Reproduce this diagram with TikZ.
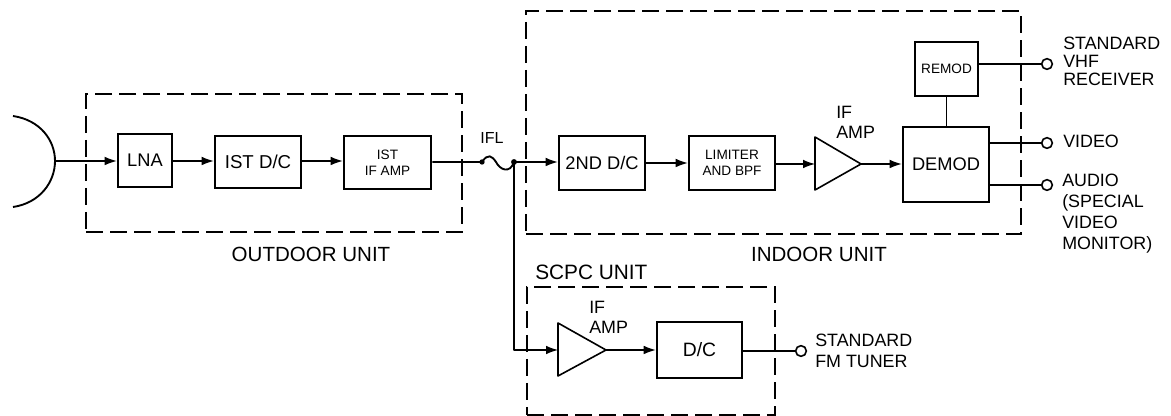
\documentclass[tikz,border=0pt]{standalone}
\usepackage{fontspec}
\setmainfont{Liberation Sans}
\usetikzlibrary{arrows.meta}
\tikzset{
  x=0.75pt,y=-0.75pt,
  blk/.style={draw,line width=2pt,inner sep=0pt,align=center,font=\fontsize{13.7}{16}\selectfont},
  smallblk/.style={blk,font=\fontsize{10.2}{12}\selectfont},
  unitbox/.style={draw,line width=0.85pt,dash pattern=on 12.5pt off 5.5pt},
  conn/.style={line width=0.9pt},
  arr/.style={conn,-{Latex[length=9pt,width=6.5pt]}},
  term/.style={circle,draw,line width=1.2pt,fill=white,minimum size=8pt,inner sep=0pt},
  lab/.style={anchor=west,inner sep=0pt,align=left,font=\fontsize{13.4}{13.6}\selectfont},
  clab/.style={inner sep=0pt,align=center,font=\fontsize{15.4}{18}\selectfont},
  amp/.style={line width=1.2pt,line join=round},
}
\begin{document}
\begin{tikzpicture}
\useasboundingbox (0,0) rectangle (1171,416);
% unit frames
\node[unitbox,minimum width=376*0.75pt,minimum height=138*0.75pt,inner sep=0pt] (outdoor) at (274,163) {};
\node[unitbox,minimum width=495*0.75pt,minimum height=223*0.75pt,inner sep=0pt] (indoor) at (773.5,122.5) {};
\node[unitbox,minimum width=248*0.75pt,minimum height=128*0.75pt,inner sep=0pt] (scpc) at (651,351) {};
% dish
\coordinate (dishtop) at (13,116);
\coordinate (dishbot) at (13,207);
\coordinate (feed) at (55,161);
\draw[line width=1.4pt] (dishtop) .. controls (40,120) and (55,140) .. (feed) .. controls (55,182) and (40,203) .. (dishbot);
% blocks
\node[blk,minimum width=54*0.75pt,minimum height=53*0.75pt] (lna) at (145,160.5) {LNA};
\node[blk,minimum width=86*0.75pt,minimum height=52*0.75pt,font=\fontsize{14}{16}\selectfont] (d1) at (258,162) {IST D/C};
\node[smallblk,minimum width=87*0.75pt,minimum height=53*0.75pt] (if1) at (387.5,162.5) {IST\\IF AMP};
\node[blk,minimum width=86*0.75pt,minimum height=54*0.75pt] (d2) at (602,163) {2ND D/C};
\node[smallblk,minimum width=86*0.75pt,minimum height=54*0.75pt] (lim) at (732,163) {LIMITER\\AND BPF};
\node[blk,minimum width=86*0.75pt,minimum height=75*0.75pt] (demod) at (946,164.5) {DEMOD};
\node[smallblk,minimum width=63*0.75pt,minimum height=54*0.75pt] (remod) at (946.5,69) {REMOD};
\node[blk,minimum width=85*0.75pt,minimum height=56*0.75pt,font=\fontsize{14.5}{16}\selectfont] (dc) at (699.5,350) {D/C};
% amplifiers
\coordinate (a1in) at (815,164); \coordinate (a1out) at (861,164);
\draw[amp] (815,137) -- (a1out) -- (815,190) -- cycle;
\coordinate (a2in) at (558,350); \coordinate (a2out) at (606,350);
\draw[amp] (558,323) -- (a2out) -- (558,376) -- cycle;
% terminals
\node[term] (t1) at (1047,64) {};
\node[term] (t2) at (1047,143) {};
\node[term] (t3) at (1047,185) {};
\node[term] (t4) at (801,351) {};
% connectors
\draw[arr] (feed) -- (lna.west |- feed);
\draw[arr] (lna.east |- feed) -- (d1.west |- feed);
\draw[arr] (d1.east |- feed) -- (if1.west |- feed);
\coordinate (w1) at (482,162);
\coordinate (jn) at (514,162);
\draw[line width=1.4pt] (if1.east |- w1) -- (w1) .. controls (488,153) and (492,156) .. (496,162) .. controls (500,170) and (510,174) .. (jn);
\fill (w1) circle (2pt);
\fill (jn) circle (2.2pt);
\draw[arr] (jn) -- (d2.west |- jn);
\draw[arr] (d2.east |- lim.west) -- (lim.west);
\draw[arr] (lim.east |- a1in) -- (a1in);
\draw[arr] (a1out) -- (demod.west |- a1out);
\draw[conn,line width=1.1pt] (remod.south) -- (remod.south |- demod.north);
\draw[conn] (remod.east |- t1) -- (t1);
\draw[conn] (demod.east |- t2) -- (t2);
\draw[conn] (demod.east |- t3) -- (t3);
\draw[arr,line join=round] (jn) |- (a2in);
\draw[arr] (a2out) -- (dc.west |- a2out);
\draw[conn] (dc.east |- t4) -- (t4);
% labels
\node[clab] (louter) at (311,254) {OUTDOOR UNIT};
\node[clab] (lindoor) at (819,254) {INDOOR UNIT};
\node[clab,font=\fontsize{12}{14}\selectfont] (lifl) at (492,138) {IFL};
\node[lab,font=\fontsize{15.6}{18}\selectfont] (lscpc) at (535,272) {SCPC UNIT};
\node[lab,font=\fontsize{13.4}{15}\selectfont] (lamp1) at (836,122) {IF\\AMP};
\node[lab,font=\fontsize{13.4}{15}\selectfont] (lamp2) at (589,317) {IF\\AMP};
\node[lab] (lvhf) at (1063,61) {STANDARD\\VHF\\RECEIVER};
\node[lab] (lvid) at (1063,141) {VIDEO};
\node[lab,font=\fontsize{13.4}{15.8}\selectfont] (laud) at (1062,213.5) {AUDIO\\(SPECIAL\\VIDEO\\MONITOR)};
\node[lab,font=\fontsize{13.4}{16}\selectfont] (lfm) at (815,351) {STANDARD\\FM TUNER};
\end{tikzpicture}
\end{document}
